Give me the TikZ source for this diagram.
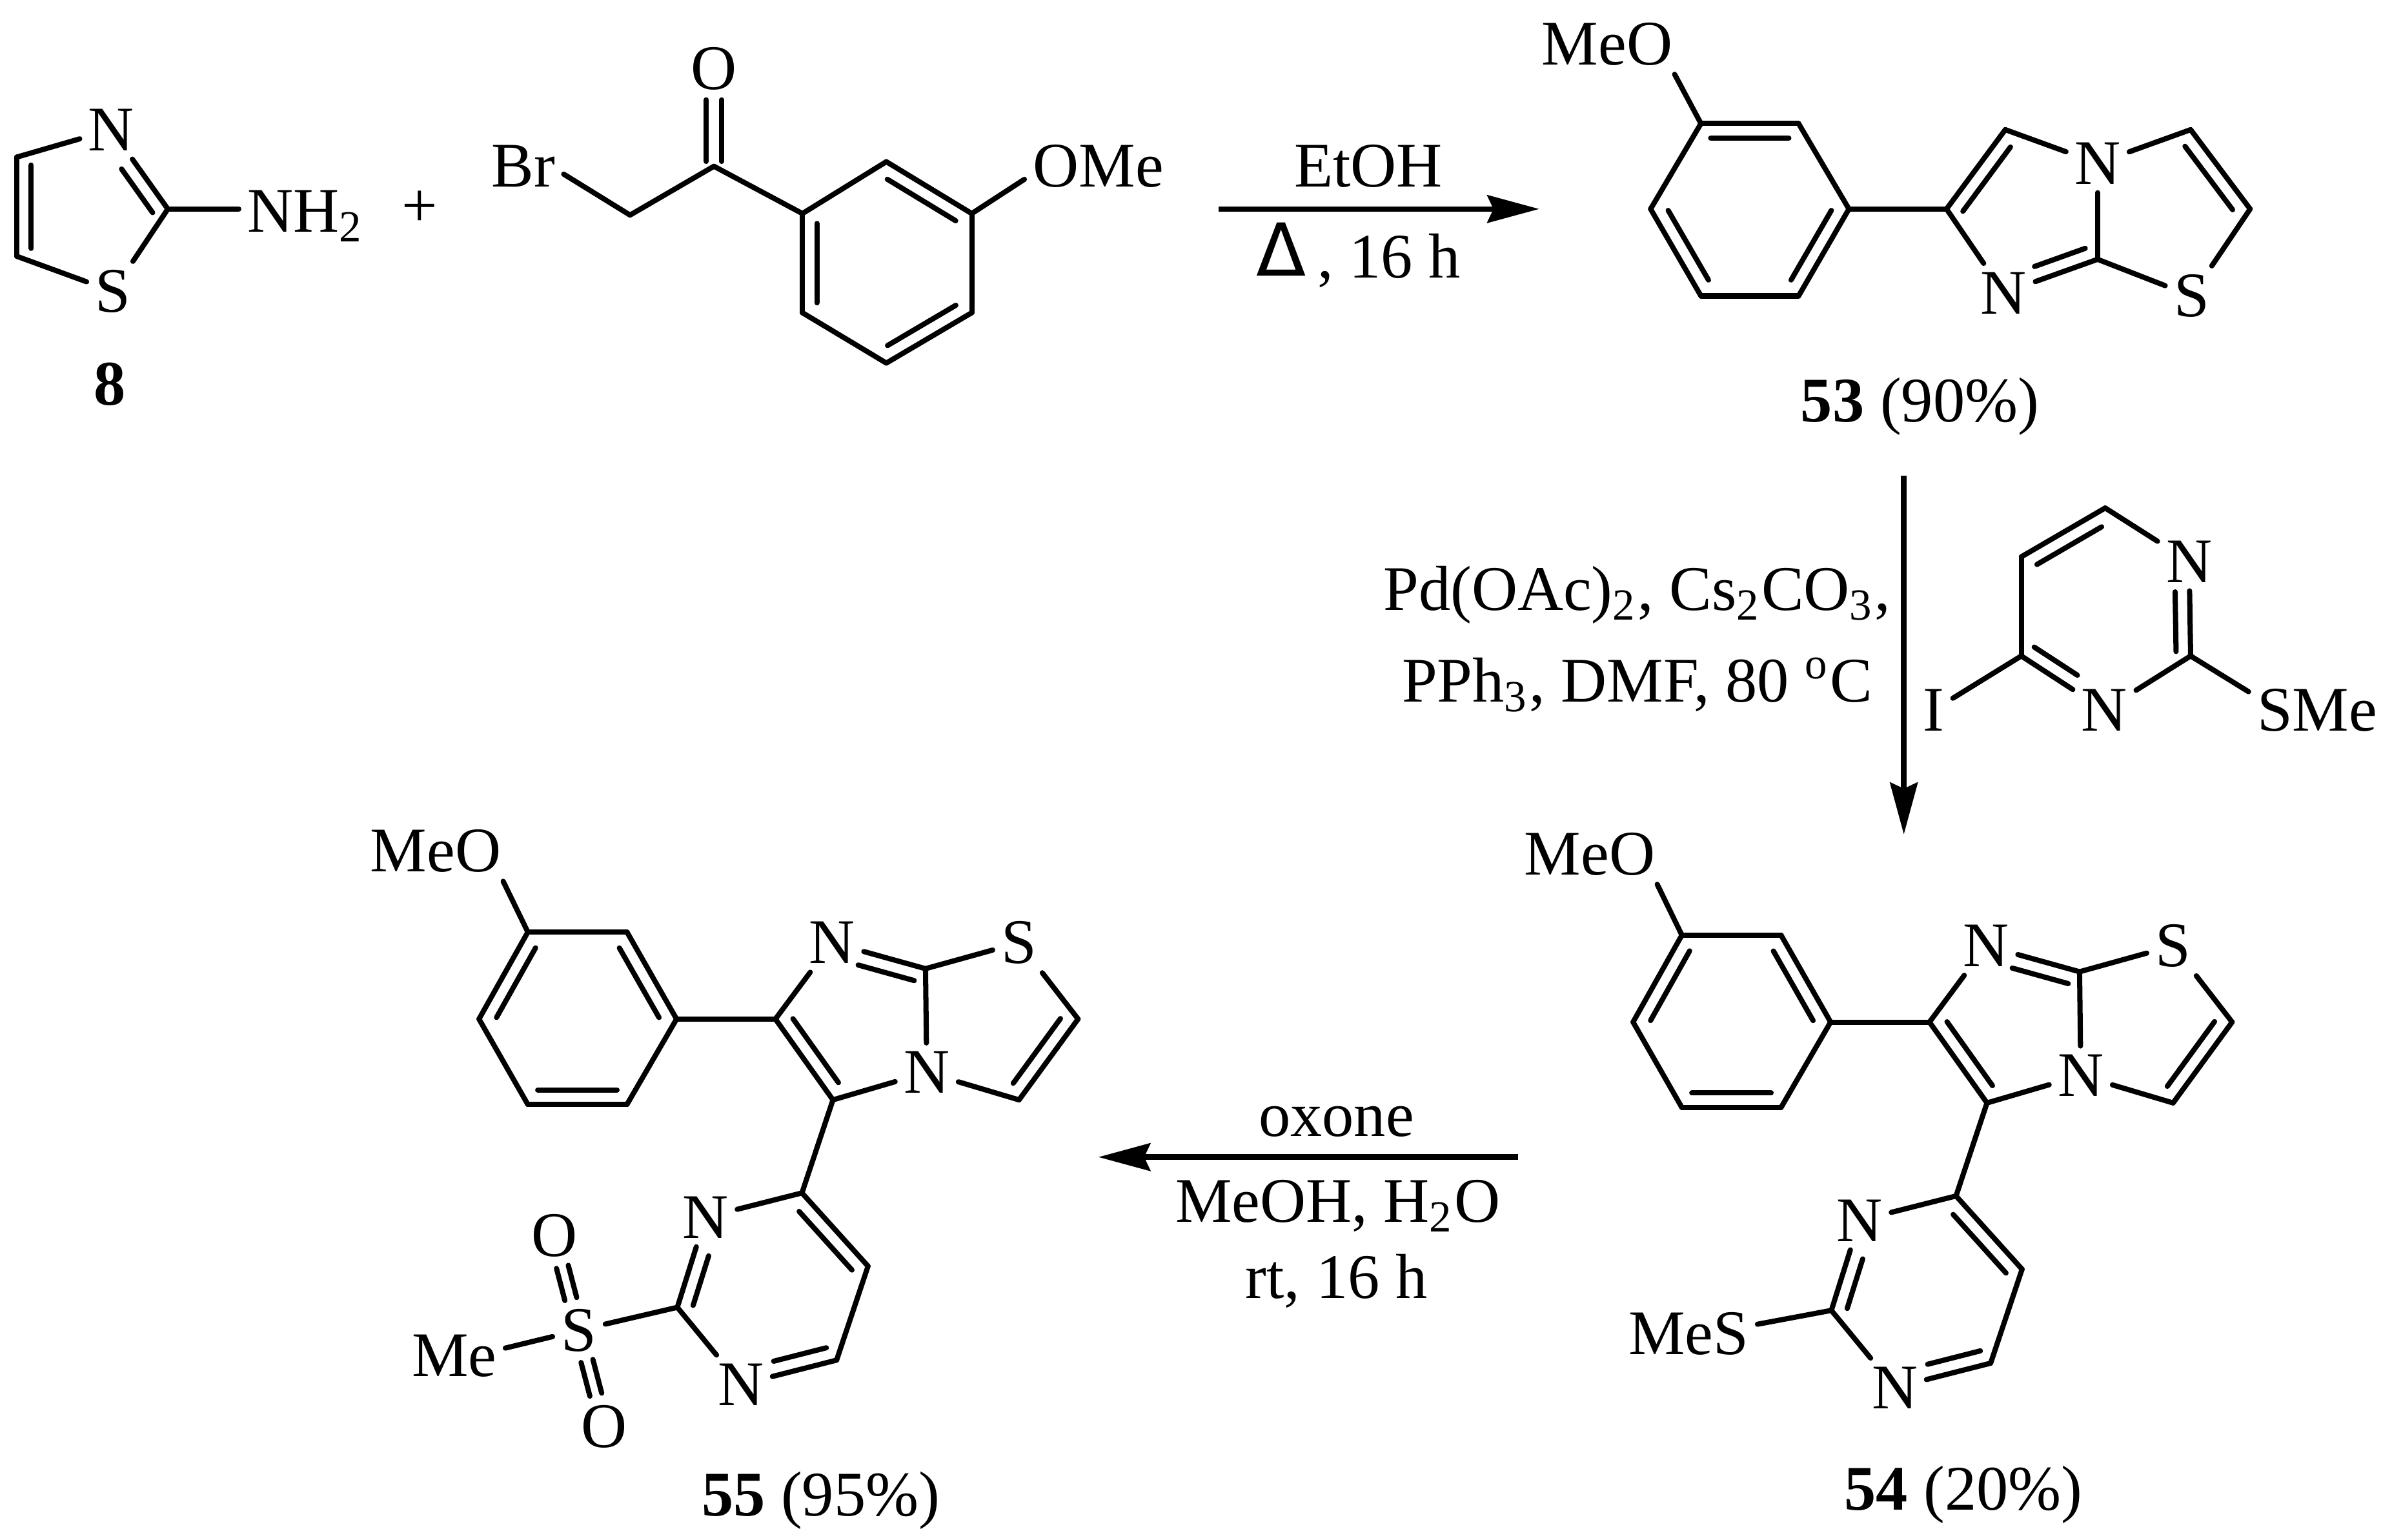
\documentclass[tikz,border=0pt]{standalone}
\usepackage{fontspec}
\setmainfont{Liberation Serif}
\newfontfamily\symfont{DejaVu Sans}
\usepackage{tikz}
\usetikzlibrary{calc,arrows.meta}
\tikzstyle{bond} = [line width=.34mm, line cap=round, line join=round]
\tikzstyle{arrow} = [
    line width=.36mm,
    -{Stealth[length=3.4mm,width=1.8mm,inset=.4mm]},
]
\tikzstyle{atom} = [inner sep=.5mm, font=\fontsize{11.85}{14}\selectfont]
\tikzstyle{label} = [inner sep=0pt, font=\fontsize{11.85}{14}\selectfont]
% parallel inner line of a double bond, on the left of a->b
\newcommand{\inbond}[5][.95mm]{
    \draw [bond] ($(#2)!#4!(#3)!#1!90:(#3)$) -- ($(#2)!#5!(#3)!#1!-90:(#2)$);
}
% aryl imidazothiazole with pyrimidine, as in 54 and 55
\newcommand{\core}[1]{
    \foreach \n/\p in {ar1/{346,611},ar2/{411,611},ar3/{443.5,668},ar4/{411,724},ar5/{346,724},ar6/{314,668},
        c1/{508.3,668},c2/{546,721},c3/{606.7,635},t1/{706.7,668},t2/{668,721},
        q1/{525.7,782},q2/{444,857},q3/{548.4,891.6},q4/{569,830}} {
        \coordinate (#1\n) at (\p);
    }
    \node (#1meo) at (285.6,558) [label,inner sep=.5mm] {MeO};
    \node (#1n) at (545.5,618) [atom] {N};
    \node (#1nb) at (607.5,703) [atom] {N};
    \node (#1s) at (668,618) [atom] {S};
    \node (#1na) at (462.5,798) [atom] {N};
    \node (#1nc) at (485.6,907.6) [atom] {N};
    \foreach \a/\b in {ar1/ar2,ar2/ar3,ar3/ar4,ar4/ar5,ar5/ar6,ar6/ar1,ar3/c1,
        c1/c2,c2/nb,nb/c3,c3/n,n/c1,c3/s,s/t1,t1/t2,t2/nb,c2/q1,
        q1/na,na/q2,q2/nc,nc/q3,q3/q4,q4/q1} {
        \draw [bond] (#1\a) -- (#1\b);
    }
    \draw [bond] (#1ar1) -- (#1meo.-24);
    \foreach \a/\b/\fa/\fb in {ar1/ar6/.1/.9,ar5/ar4/.1/.9,ar3/ar2/.1/.9,c1/c2/.1/.89,c3/n/.08/.68,t2/t1/.1/.9,
        na/q2/.38/.93,nc/q3/.38/.93,q4/q1/.08/.88} {
        \inbond{#1\a}{#1\b}{\fa}{\fb}
    }
}

\begin{document}
\begin{tikzpicture}[x=.1mm,y=-.1mm]
    \useasboundingbox (0,0) rectangle (1568,1009.5);

    % 8
    \coordinate (tc2) at (110,137);
    \coordinate (tc4) at (11,168);
    \coordinate (tc5) at (11,103);
    \node (tn) at (73,85) [atom] {N};
    \node (ts) at (74,191) [atom] {S};
    \node (nh) at (156.5,152) [label,inner sep=.5mm,anchor=base west] {NH\textsubscript{2}};
    \foreach \a/\b in {tc2/tn,tn/tc5,tc5/tc4,tc4/ts,ts/tc2} {
        \draw [bond] (\a) -- (\b);
    }
    \draw [bond] (tc2) -- (tc2 -| nh.west);
    \inbond{tc5}{tc4}{.08}{.92}
    \inbond{tc2}{tn}{.06}{.61}
    \node (lab8) at (72,265.5) [label,anchor=base] {\textbf{8}};
    \node (plus) at (275,137) [label] {+};

    % bromo ketone
    \foreach \n/\p in {ch/{413,141},co/{468,109},r1/{526,140},r2/{581,106},r3/{637,140},r4/{637,205},r5/{581,238},r6/{526,205}} {
        \coordinate (\n) at (\p);
    }
    \node (br) at (343,109) [label,inner sep=.5mm] {Br};
    \node (ox) at (468,45) [atom] {O};
    \node (ome) at (720,109) [label,inner sep=.5mm] {OMe};
    \foreach \a/\b in {ch/co,co/r1,r1/r2,r2/r3,r3/r4,r4/r5,r5/r6,r6/r1} {
        \draw [bond] (\a) -- (\b);
    }
    \draw [bond] (br.-11) -- (ch);
    \draw [bond] (r3) -- (ome.190);
    \inbond[.5mm]{co}{ox}{.05}{.68}
    \inbond[.5mm]{ox}{co}{.32}{.95}
    \foreach \a/\b in {r3/r2,r1/r6,r5/r4} {
        \inbond{\a}{\b}{.1}{.9}
    }

    % first arrow
    \coordinate (arrAa) at (799,137);
    \coordinate (arrAb) at (1009,137);
    \draw [arrow] (arrAa) to (arrAb);
    \node (etoh) at (897,109) [label] {EtOH};
    \node (delta) at (840,181) [label,anchor=base,font=\symfont\fontsize{13.6}{14}\selectfont] {Δ};
    \node (time) at (863,182) [label,anchor=base west] {, 16 h};

    % 53
    \foreach \n/\p in {a1/{1115,81},a2/{1179,81},a3/{1212,137},a4/{1179,194},a5/{1115,194},a6/{1082,137},
        b1/{1276,137},b2/{1314.5,85},b3/{1375,170},h1/{1436,85},h2/{1475,137}} {
        \coordinate (\n) at (\p);
    }
    \node (meoA) at (1053.5,29) [label,inner sep=.5mm] {MeO};
    \node (bn) at (1375,107) [atom] {N};
    \node (bna) at (1313.5,192) [atom] {N};
    \node (bs) at (1436.6,194) [atom] {S};
    \foreach \a/\b in {a1/a2,a2/a3,a3/a4,a4/a5,a5/a6,a6/a1,a3/b1,b1/b2,b2/bn,bn/b3,b3/bna,bna/b1,
        b3/bs,bs/h2,h2/h1,h1/bn} {
        \draw [bond] (\a) -- (\b);
    }
    \draw [bond] (a1) -- (meoA.-24);
    \foreach \a/\b/\fa/\fb in {a2/a1/.1/.9,a6/a5/.1/.9,a4/a3/.1/.9,b2/b1/.11/.92,bna/b3/.38/.92,h2/h1/.1/.9} {
        \inbond{\a}{\b}{\fa}{\fb}
    }
    \node (lab53) at (1258.5,276.5) [label,anchor=base] {\textbf{53} (90\%)};

    % second arrow and its reagents
    \coordinate (arrBa) at (1248,312);
    \coordinate (arrBb) at (1248,547);
    \draw [arrow] (arrBa) to (arrBb);
    \node (pd) at (1240,400) [label,anchor=base east] {Pd(OAc)\textsubscript{2}, Cs\textsubscript{2}CO\textsubscript{3},};
    \node (pph) at (1228,460) [label,anchor=base east] {PPh\textsubscript{3}, DMF, 80 \textsuperscript{o}C};
    \foreach \n/\p in {p1/{1325,365},p2/{1380,333},p4/{1436,430},p6/{1325,430}} {
        \coordinate (\n) at (\p);
    }
    \node (pn) at (1435,368) [atom] {N};
    \node (pnb) at (1379.5,465.5) [atom] {N};
    \node (iod) at (1267.5,465.5) [atom] {I};
    \node (sme) at (1519,465.5) [label,inner sep=.5mm] {SMe};
    \foreach \a/\b in {p1/p2,p2/pn,pn/p4,p4/pnb,pnb/p6,p6/p1,p6/iod} {
        \draw [bond] (\a) -- (\b);
    }
    \draw [bond] (p4) -- (sme.165);
    \foreach \a/\b/\fa/\fb in {p2/p1/.13/.9,p6/pnb/.06/.58,p4/pn/.05/.68} {
        \inbond{\a}{\b}{\fa}{\fb}
    }

    % 54
    \begin{scope}[shift={(756.5,2)}]
        \core{u}
        \node (mes) at (350.5,872.4) [label,inner sep=.5mm] {MeS};
        \draw [bond] (uq2) -- (mes.8);
    \end{scope}
    \node (lab54) at (1287,989.7) [label,anchor=base] {\textbf{54} (20\%)};

    % third arrow
    \coordinate (arrCa) at (995,758.5);
    \coordinate (arrCb) at (720,758.5);
    \draw [arrow] (arrCa) to (arrCb);
    \node (oxone) at (876,745) [label,anchor=base] {oxone};
    \node (meoh) at (877,801) [label,anchor=base] {MeOH, H\textsubscript{2}O};
    \node (rt) at (876,851) [label,anchor=base] {rt, 16 h};

    % 55
    \core{v}
    \node (so) at (379.5,872) [atom] {S};
    \node (oa) at (363.3,810) [atom] {O};
    \node (ob) at (396,935) [atom] {O};
    \node (me) at (297.8,889) [label,inner sep=.5mm] {Me};
    \draw [bond] (vq2) -- (so);
    \draw [bond] (so) -- (me.9);
    \inbond[.4mm]{so}{oa}{.33}{.67}
    \inbond[.4mm]{oa}{so}{.33}{.67}
    \inbond[.4mm]{so}{ob}{.32}{.67}
    \inbond[.4mm]{ob}{so}{.33}{.68}
    \node (lab55) at (538,993.5) [label,anchor=base] {\textbf{55} (95\%)};
\end{tikzpicture}
\end{document}
